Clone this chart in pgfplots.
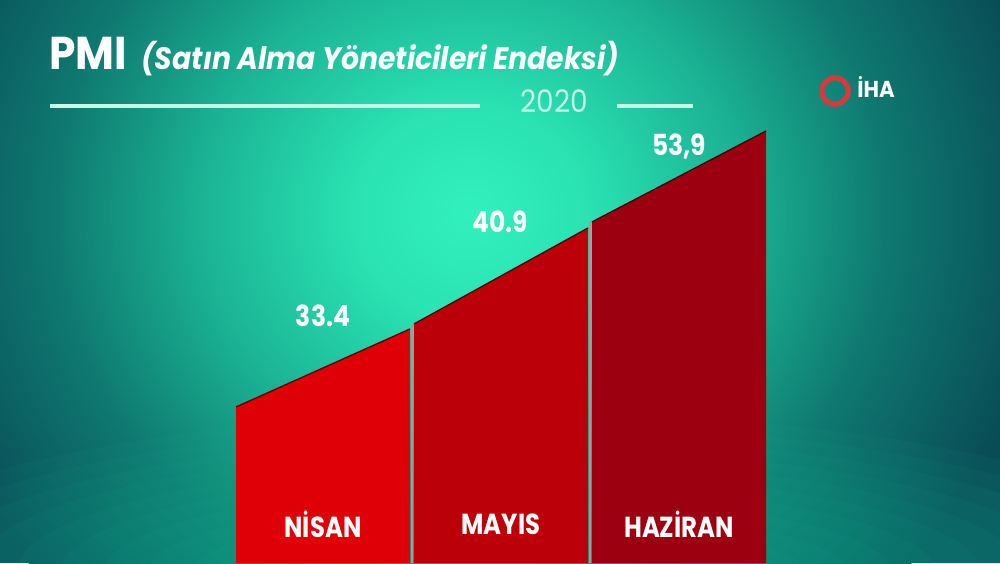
\documentclass[border=0pt]{standalone}
\usepackage{pgfplots}
\pgfplotsset{compat=1.18}
\usepackage{fontspec}
\setmainfont{Poppins}

\definecolor{bg0}{RGB}{50,240,190}
\definecolor{bg1}{RGB}{42,226,178}
\definecolor{bg2}{RGB}{26,176,146}
\definecolor{bg3}{RGB}{15,120,112}
\definecolor{bgout}{RGB}{9,76,86}
\definecolor{bglow}{RGB}{30,200,160}
\definecolor{rA}{RGB}{222,0,6}
\definecolor{rB}{RGB}{188,0,10}
\definecolor{rC}{RGB}{156,0,16}
\definecolor{divc}{RGB}{172,150,150}
\definecolor{linec}{RGB}{200,248,230}
\definecolor{logored}{RGB}{212,58,62}

\pgfdeclareradialshading{bgshade}{\pgfpoint{0bp}{0bp}}{color(0bp)=(bg0); color(5bp)=(bg1); color(12bp)=(bg2); color(18bp)=(bg3); color(25bp)=(bgout); color(50bp)=(bgout)}

\begin{document}
\begin{tikzpicture}
\begin{axis}[
  scale only axis, width=500pt, height=281.5pt,
  xmin=0, xmax=1000, ymin=0, ymax=563,
  axis lines=none, clip=true,
]
% background
\fill[bgout] (axis cs:0,0) rectangle (axis cs:1000,563);
\begin{scope}
\clip (axis cs:0,0) rectangle (axis cs:1000,563);
\shade[shading=bgshade] (axis cs:470,350) ellipse [x radius=290pt, y radius=270pt];
\fill[bglow, opacity=0.05] (axis cs:520,-10) ellipse [x radius=340pt, y radius=80pt];
\fill[bglow, opacity=0.05] (axis cs:520,-10) ellipse [x radius=318pt, y radius=74pt];
\fill[bglow, opacity=0.05] (axis cs:520,-10) ellipse [x radius=296pt, y radius=68pt];
\fill[bglow, opacity=0.05] (axis cs:520,-10) ellipse [x radius=274pt, y radius=62pt];
\fill[bglow, opacity=0.05] (axis cs:520,-10) ellipse [x radius=252pt, y radius=56pt];
\fill[bglow, opacity=0.05] (axis cs:520,-10) ellipse [x radius=230pt, y radius=50pt];
\fill[bglow, opacity=0.05] (axis cs:520,-10) ellipse [x radius=208pt, y radius=44pt];
\fill[bglow, opacity=0.05] (axis cs:520,-10) ellipse [x radius=186pt, y radius=38pt];
\fill[bglow, opacity=0.05] (axis cs:520,-10) ellipse [x radius=164pt, y radius=32pt];
\fill[bglow, opacity=0.05] (axis cs:520,-10) ellipse [x radius=142pt, y radius=26pt];
\end{scope}

% bars (stylised sloped tops)
\addplot[fill=rA, draw=none] coordinates {(236,156) (410,234)} \closedcycle;
\addplot[fill=rB, draw=none] coordinates {(414,239) (588,335)} \closedcycle;
\addplot[fill=rC, draw=none] coordinates {(592,341) (766,432)} \closedcycle;
\addplot[draw=black!55!rA, line width=0.7pt] coordinates {(236,156) (410,234)};
\addplot[draw=black!55!rB, line width=0.7pt] coordinates {(414,239) (588,335)};
\addplot[draw=black!55!rC, line width=0.7pt] coordinates {(592,341) (766,432)};
\addplot[divc, line width=1pt] coordinates {(412,0) (412,239)};
\addplot[divc, line width=1pt] coordinates {(590,0) (590,341)};

% values
\node[text=white, font=\fontsize{14.5}{17}\selectfont\bfseries] at (axis cs:323,247) {\scalebox{0.86}[1]{33.4}};
\node[text=white, font=\fontsize{14.5}{17}\selectfont\bfseries] at (axis cs:500,341) {\scalebox{0.86}[1]{40.9}};
\node[text=white, font=\fontsize{14.5}{17}\selectfont\bfseries] at (axis cs:679,416) {\scalebox{0.86}[1]{53,9}};

% categories
\node[text=white, font=\fontsize{14.5}{16}\selectfont\bfseries] at (axis cs:323,39) {\scalebox{0.84}[1]{NİSAN}};
\node[text=white, font=\fontsize{14.5}{16}\selectfont\bfseries] at (axis cs:501,39) {\scalebox{0.84}[1]{MAYIS}};
\node[text=white, font=\fontsize{14.5}{16}\selectfont\bfseries] at (axis cs:679,39) {\scalebox{0.84}[1]{HAZİRAN}};

% title
\node[text=white, anchor=base west, inner sep=0pt, font=\fontsize{23}{26}\selectfont\bfseries] at (axis cs:49,493) {\scalebox{0.92}[1]{PMI}};
\node[text=white, anchor=base west, inner sep=0pt, font=\fontsize{15.5}{18}\selectfont\bfseries\itshape] at (axis cs:141,493) {\scalebox{0.91}[1]{(Satın Alma Yöneticileri Endeksi)}};
\draw[linec, line width=1.6pt] (axis cs:50,457) -- (axis cs:480,457);
\draw[linec, line width=1.6pt] (axis cs:617,457) -- (axis cs:693,457);
\node[text=linec, font=\fontsize{15.5}{17}\selectfont] at (axis cs:554,462) {\scalebox{0.9}[1]{2020}};

% logo
\draw[logored, line width=2.6pt] (axis cs:835,472) circle [radius=6.6pt];
\node[text=white, anchor=base west, inner sep=0pt, font=\fontsize{11.5}{13}\selectfont\bfseries] at (axis cs:857,465) {\scalebox{0.92}[1]{İHA}};
\end{axis}
\pgfresetboundingbox
\useasboundingbox (current axis.south west) rectangle (current axis.north east);
\end{tikzpicture}
\end{document}
